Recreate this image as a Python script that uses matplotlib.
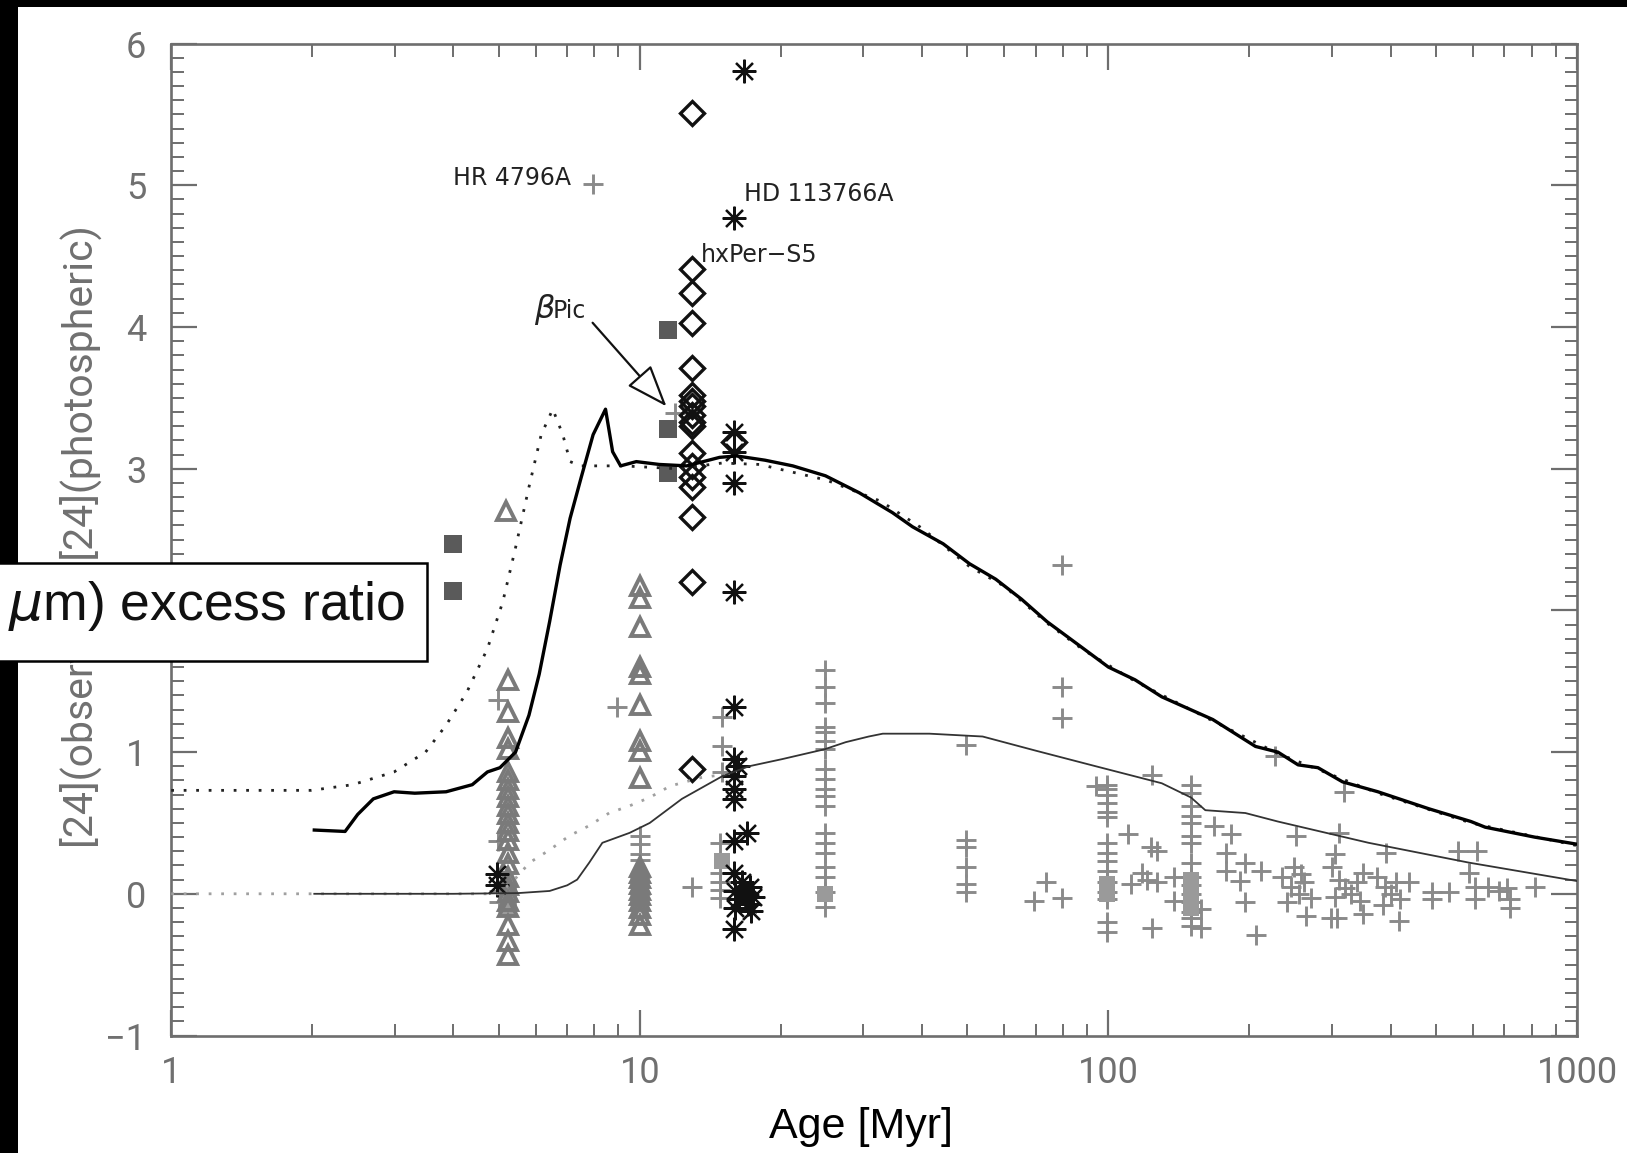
import numpy as np
import matplotlib
matplotlib.use('Agg')
import matplotlib.pyplot as plt
from matplotlib import font_manager
from matplotlib.patches import Rectangle
from matplotlib.ticker import FixedLocator, NullFormatter, MultipleLocator, LogLocator

# ---------------- data ----------------
# model curves (age [Myr], excess)
thick_age = [2.02, 2.35, 2.5, 2.7, 2.99, 3.31, 3.86, 4.39, 4.73, 5.03, 5.43, 5.8, 6.1, 6.42, 6.76,
             7.1, 7.5, 7.95, 8.45, 8.75, 9.1, 9.83, 11.0, 12.6, 14.8, 16.1, 18.5, 21.2, 24.9, 29.4, 34.6,
             38.2, 44.4, 50.5, 57.5, 65.2, 74, 88.5, 100, 114, 130, 167, 206, 230, 254, 280, 316,
             376, 483, 594, 637, 812, 1000]
thick_val = [0.45, 0.44, 0.56, 0.67, 0.72, 0.71, 0.72, 0.77, 0.86, 0.89, 1.0, 1.26, 1.55, 1.92, 2.32,
             2.65, 2.94, 3.24, 3.42, 3.12, 3.02, 3.05, 3.03, 3.02, 3.08, 3.09, 3.06, 3.02, 2.95, 2.83, 2.69,
             2.59, 2.47, 2.33, 2.22, 2.08, 1.92, 1.73, 1.60, 1.51, 1.39, 1.23, 1.04, 1.0, 0.91, 0.89, 0.79,
             0.72, 0.60, 0.51, 0.47, 0.40, 0.35]

dotu_age = [1.0, 1.99, 2.44, 2.99, 3.49, 3.86, 4.27, 4.73, 5.1, 5.42, 5.8, 6.16, 6.52, 6.85, 7.1,
            7.47, 9.2, 12, 15, 18, 25, 32.7, 40, 50.5, 60, 74, 88.5, 114, 167, 230, 376, 594, 1000]
dotu_val = [0.73, 0.73, 0.77, 0.86, 1.0, 1.19, 1.42, 1.73, 2.06, 2.43, 2.87, 3.24, 3.42, 3.24, 3.05,
            3.02, 3.02, 3.0, 3.04, 3.03, 2.92, 2.77, 2.58, 2.31, 2.17, 1.91, 1.72, 1.50, 1.22, 0.99,
            0.71, 0.50, 0.34]

thin_age = [2.02, 4.0, 5.5, 6.42, 7.0, 7.35, 7.8, 8.32, 9.51, 10.5, 12.3, 15.0, 17.1, 20.1, 24.8,
            27.5, 30.8, 33, 41.5, 53.9, 70, 94, 130, 150, 161, 196, 230, 359, 588, 1000]
thin_val = [0.0, 0.0, 0.005, 0.02, 0.06, 0.10, 0.22, 0.36, 0.43, 0.50, 0.67, 0.83, 0.90, 0.95, 1.02,
            1.07, 1.11, 1.13, 1.13, 1.11, 1.01, 0.90, 0.78, 0.68, 0.59, 0.57, 0.51, 0.36, 0.22, 0.09]

dotl_age = [1.0, 5.0, 5.4, 5.82, 6.42, 7.08, 7.79, 8.6, 9.5, 10.5, 11.6, 13.5, 15.0]
dotl_val = [0.0, 0.0, 0.10, 0.22, 0.31, 0.41, 0.48, 0.57, 0.62, 0.68, 0.76, 0.82, 0.84]

# gray open triangles
tri_age = [5.18] + [5.22] * 23 + [10.0] * 19
tri_val = [2.70,
           1.51, 1.28, 1.10, 1.02, 0.86, 0.80, 0.74, 0.68, 0.62, 0.56, 0.50, 0.44, 0.38, 0.29, 0.21,
           0.12, 0.06, 0.01, -0.05, -0.09, -0.22, -0.33, -0.43,
           2.17, 2.09, 1.88, 1.60, 1.55, 1.33, 1.08, 1.01, 0.82,
           0.19, 0.15, 0.11, 0.07, 0.03, -0.01, -0.05, -0.10, -0.15, -0.22]

# black open diamonds (h and chi Persei)
dia_age = [12.9] * 18 + [15.9]
dia_val = [5.51, 4.41, 4.24, 4.03, 3.71, 3.52, 3.48, 3.44, 3.38, 3.33, 3.30, 3.11, 3.02, 2.94,
           2.87, 2.66, 2.20, 0.88, 3.19]

# black asterisks
ast_age = [16.7, 15.9, 15.9, 15.9, 15.9, 15.9, 15.9, 15.9, 16.2, 15.9, 15.9, 15.9, 16.9, 15.9,
           15.9, 16.5, 17.2, 16.0, 16.8, 17.4, 16.3, 17.0, 16.0, 17.3, 15.9, 4.95, 4.95]
ast_val = [5.81, 4.77, 3.26, 3.12, 2.90, 2.13, 1.32, 0.95, 0.90, 0.83, 0.74, 0.67, 0.43, 0.37,
           0.15, 0.08, 0.05, 0.02, 0.0, -0.02, -0.04, -0.07, -0.10, -0.12, -0.25, 0.14, 0.06]

# dark gray filled squares
sq_age = [4.0, 4.0, 11.5, 11.5, 11.5]
sq_val = [2.47, 2.14, 3.98, 3.28, 2.97]

# light gray filled squares
gsq_age = [5.25, 5.25, 5.25, 15.0, 24.8, 99.4, 99.4, 150, 150, 150, 150]
gsq_val = [0.03, -0.03, -0.09, 0.23, 0.0, 0.07, 0.0, 0.10, 0.03, -0.04, -0.10]

# gray plus signs (field stars)
plus_age = ([7.96, 11.9, 4.98, 4.98, 5.0, 5.0, 8.94]
            + [10.0] * 6 + [12.9]
            + [15.0, 15.0, 15.0, 14.8, 14.8, 14.8, 14.8, 14.8]
            + [24.8] * 19
            + [49.7] * 6
            + [73.7, 69.4, 79.7, 79.7, 79.7, 79.7]
            + [99.4] * 15 + [94]
            + [110, 123, 127, 118, 121, 112, 127, 124, 124]
            + [150] * 15
            + [138, 138, 158, 158, 168, 183, 178, 178, 196, 212, 191, 196, 207, 227]
            + [318, 252, 310, 305, 249, 235, 245, 255, 262, 270, 240, 258, 264]
            + [300, 310, 320, 330, 340, 350, 305, 345, 298, 307, 349]
            + [392, 375, 390, 400, 410, 420, 385, 417, 437, 490, 533, 490]
            + [557, 613, 588, 607, 607, 645, 680, 710, 720, 720, 815])
plus_val = ([5.01, 3.39, 1.37, 0.37, -0.06, 0.02, 1.32]
            + [0.41, 0.35, 0.28, 0.24, 0.12, 0.0] + [0.05]
            + [1.25, 1.04, 0.86, 0.36, 0.15, 0.08, 0.03, -0.03]
            + [1.58, 1.46, 1.35, 1.18, 1.14, 1.08, 1.02, 0.88, 0.81, 0.74, 0.69, 0.62, 0.43, 0.36,
               0.29, 0.19, 0.12, 0.01, -0.09]
            + [1.05, 0.38, 0.33, 0.19, 0.07, 0.01]
            + [0.08, -0.05, -0.03, 2.32, 1.46, 1.24]
            + [0.77, 0.74, 0.70, 0.64, 0.58, 0.54, 0.36, 0.29, 0.23, 0.16, 0.08, 0.01, -0.04,
               -0.20, -0.27, 0.76]
            + [0.42, 0.33, 0.30, 0.15, 0.10, 0.07, 0.08, -0.24, 0.84]
            + [0.77, 0.71, 0.62, 0.55, 0.50, 0.41, 0.36, 0.22, 0.12, 0.06, 0.0, -0.06, -0.13,
               -0.17, -0.23]
            + [0.12, -0.05, -0.11, -0.24, 0.48, 0.42, 0.29, 0.16, 0.22, 0.16, 0.09, -0.06, -0.29, 0.97]
            + [0.72, 0.41, 0.43, 0.28, 0.19, 0.12, 0.05, 0.0, 0.08, -0.03, -0.06, 0.14, -0.16]
            + [0.19, 0.10, 0.04, 0.0, 0.08, 0.15, -0.02, -0.05, -0.17, -0.17, -0.14]
            + [0.29, 0.12, 0.05, 0.0, 0.08, -0.04, -0.08, -0.19, 0.08, 0.01, 0.01, -0.04]
            + [0.30, 0.30, 0.15, 0.05, -0.04, 0.05, 0.02, 0.04, -0.04, -0.10, 0.05])

x_ticks = [1, 10, 100, 1000]
x_ticklabels = ['1', '10', '100', '1000']
y_ticks = [-1, 0, 1, 2, 3, 4, 5, 6]
y_ticklabels = ['\u22121', '0', '1', '2', '3', '4', '5', '6']

# ---------------- fonts ----------------
def has_font(name):
    try:
        font_manager.findfont(font_manager.FontProperties(family=name), fallback_to_default=False)
        return True
    except Exception:
        return False

tick_font = 'Roboto' if has_font('Roboto') else 'DejaVu Sans'
narrow = has_font('Liberation Sans Narrow')

# ---------------- figure ----------------
W, H, DPI = 1627, 1153, 100
fig = plt.figure(figsize=(W / DPI, H / DPI), dpi=DPI)
fig.patch.set_facecolor('white')

x0, x1 = 171.2, 1577.0
y0, y1 = 43.6, 1035.5
ax = fig.add_axes([x0 / W, 1 - y1 / H, (x1 - x0) / W, (y1 - y0) / H])
ax.set_xscale('log')

gray_plus = '#8a8a8a'
ax.plot(plus_age, plus_val, ls='none', marker='+', ms=14.5, mew=2.1, color=gray_plus, zorder=3)
ax.plot(gsq_age, gsq_val, ls='none', marker='s', ms=11, mew=0, color='#9a9a9a', zorder=3)
ax.plot(tri_age, tri_val, ls='none', marker='^', ms=13.5, mew=2.8, mfc='none', mec='#7a7a7a', zorder=4)
ax.plot(sq_age, sq_val, ls='none', marker='s', ms=13, mew=0, color='#5a5a5a', zorder=4)
ax.plot(dia_age, dia_val, ls='none', marker='D', ms=12, mew=2.4, mfc='none', mec='#111111', zorder=5)
ax.plot(ast_age, ast_val, ls='none', marker=(8, 2, 0), ms=17, mew=1.6, color='#111111', zorder=5)

ax.plot(dotl_age, dotl_val, ls=(0, (1, 3.5)), lw=2.0, color='#a0a0a0', zorder=6)
ax.plot(dotu_age, dotu_val, ls=(0, (1, 3.5)), lw=2.0, color='#222222', zorder=6)
ax.plot(thin_age, thin_val, ls='-', lw=1.3, color='#333333', zorder=7)
ax.plot(thick_age, thick_val, ls='-', lw=2.4, color='#000000', zorder=7)

ax.set_xlim(1, 1000)
ax.set_ylim(-1, 6)

ax.xaxis.set_major_locator(FixedLocator(x_ticks))
ax.set_xticklabels(x_ticklabels)
ax.xaxis.set_minor_locator(LogLocator(base=10, subs=list(range(2, 10))))
ax.xaxis.set_minor_formatter(NullFormatter())
ax.yaxis.set_major_locator(FixedLocator(y_ticks))
ax.set_yticklabels(y_ticklabels)
ax.yaxis.set_minor_locator(MultipleLocator(0.1))

ax.tick_params(which='both', direction='in', top=True, right=True, color='#6e6e6e')
ax.tick_params(which='major', length=19, width=1.6, labelsize=26, labelcolor='#707070')
ax.tick_params(which='minor', length=9, width=1.4)
ax.tick_params(axis='x', which='major', pad=14)
ax.tick_params(axis='y', which='major', pad=18)
for lab in ax.get_xticklabels() + ax.get_yticklabels():
    lab.set_family(tick_font)
    lab.set_weight('normal')
for s in ax.spines.values():
    s.set_color('#6e6e6e')
    s.set_linewidth(1.9)

# annotations
txt_kw = dict(fontsize=17, color='#222222', family='DejaVu Sans', zorder=8)
ax.text(3.99, 5.05, 'HR 4796A', ha='left', va='center', **txt_kw)
ax.text(16.7, 4.94, 'HD 113766A', ha='left', va='center', **txt_kw)
ax.text(13.5, 4.51, 'hxPer\u2212S5', ha='left', va='center', **txt_kw)
ax.text(5.94, 4.12, r'$\beta$', ha='left', va='center', fontsize=23, color='#222222', zorder=8)
ax.text(6.53, 4.11, 'Pic', ha='left', va='center', **txt_kw)
ax.annotate('', xy=(11.4, 3.44), xytext=(7.93, 4.03),
            arrowprops=dict(arrowstyle='-|>,head_length=1.2,head_width=0.45', fc='white',
                            ec='#111111', lw=1.6, mutation_scale=22, shrinkA=0, shrinkB=0),
            zorder=8)

# y label (partly hidden by overlay)
fig.text(78 / W, 1 - ((y0 + y1) / 2 - 6) / H, '[24](observed)\u2212[24](photospheric)', rotation=90,
         ha='center', va='center', fontsize=29.5, color='#707070', family=tick_font, weight='normal')

# x label
if narrow:
    fig.text(861 / W, 1 - 1138 / H, 'Age [Myr]', ha='center', va='baseline', fontsize=36,
             family='Liberation Sans Narrow', color='black')
else:
    fig.text(861 / W, 1 - 1138 / H, 'Age [Myr]', ha='center', va='baseline', fontsize=31,
             family='Liberation Sans', color='black')

# black frame strips of the screenshot
fig.add_artist(Rectangle((0, 0), 18 / W, 1, transform=fig.transFigure, color='black', lw=0, zorder=20))
fig.add_artist(Rectangle((0, 1 - 7 / H), 1, 7 / H, transform=fig.transFigure, color='black', lw=0, zorder=20))

# overlay label box
fig.add_artist(Rectangle((-4 / W, 1 - 661 / H), 431 / W, 98 / H, transform=fig.transFigure,
                         facecolor='white', edgecolor='black', lw=1.8, zorder=21))
fig.text(405 / W, 1 - 620 / H, r'$\mu$m) excess ratio', ha='right', va='baseline', fontsize=38.5,
         family='Liberation Sans', color='#111111', zorder=22)

fig.savefig('out.png', dpi=DPI, facecolor='white')
